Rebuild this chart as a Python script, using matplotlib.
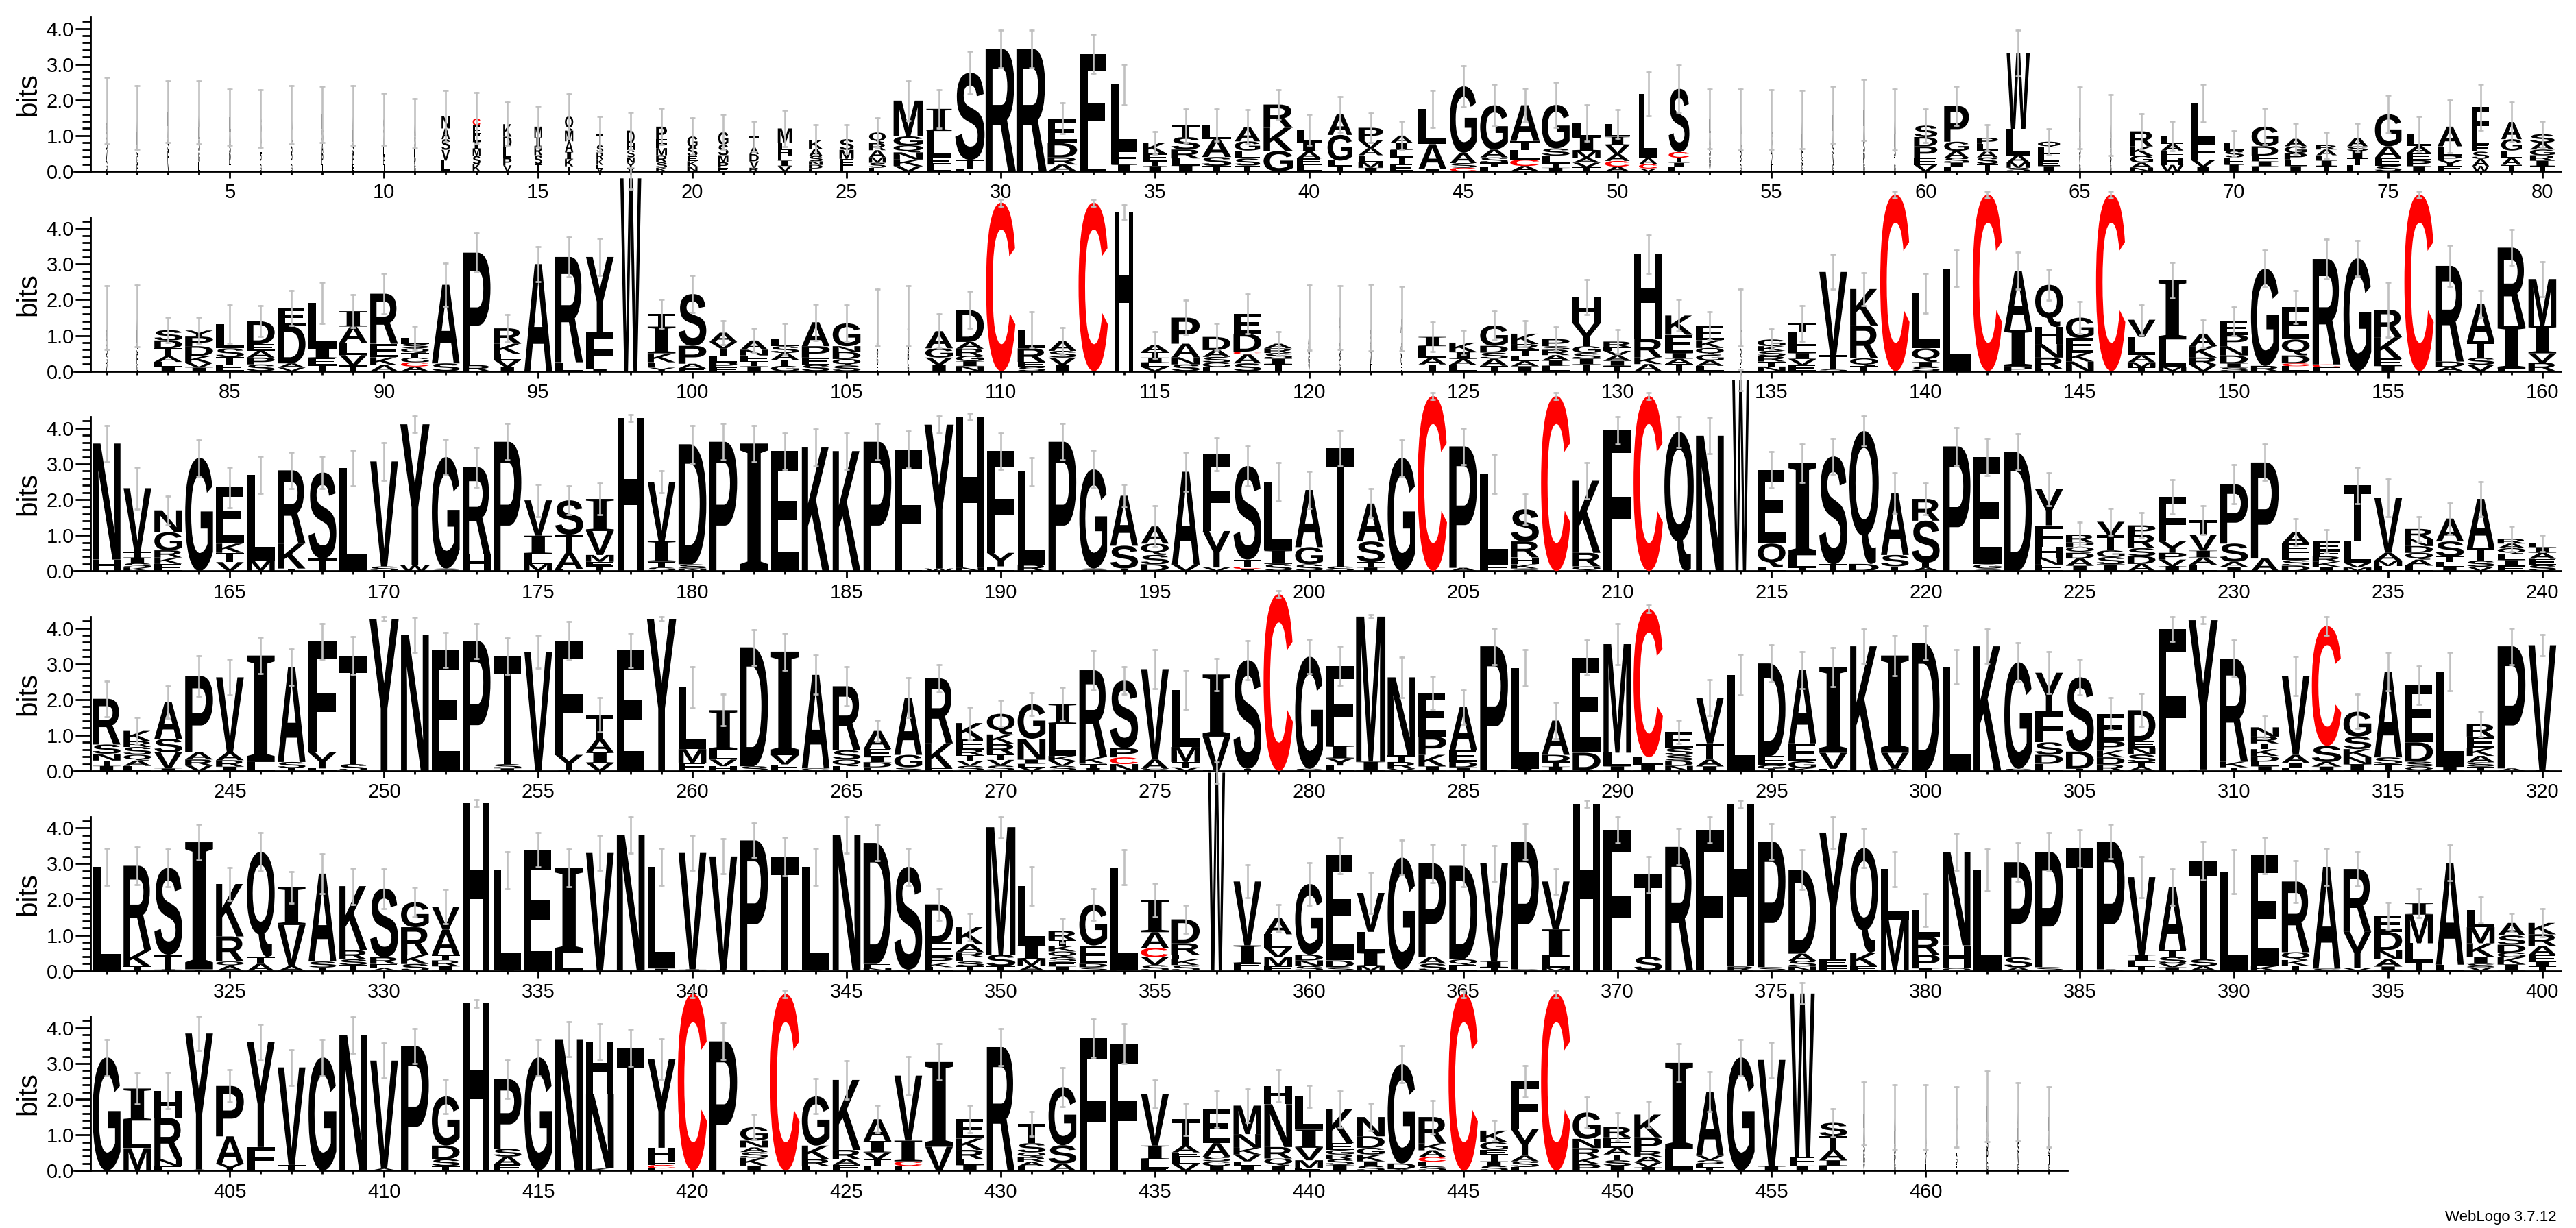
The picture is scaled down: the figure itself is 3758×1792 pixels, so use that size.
"""Sequence logo in the WebLogo style: six rows of 80 alignment positions."""
import re

import matplotlib
matplotlib.use("Agg")
import matplotlib.pyplot as plt
from matplotlib.font_manager import FontProperties
from matplotlib.patches import PathPatch
from matplotlib.path import Path
from matplotlib.textpath import TextPath
from matplotlib.ticker import FixedLocator

plt.rcParams["font.family"] = ["Liberation Sans", "DejaVu Sans"]

# Each stack lists its letters top to bottom with their height in bits.
STACKS_1 = [
    "L.4A.35S.35V.3G.3", "A.4L.35S.3G.25P.2", "L.4A.35S.35P.3V.27", "A.4L.35S.35G.3E.25",
    "L.4A.32S.3P.3T.2", "S.4A.3L.3P.28G.2", "A.4L.35S.33P.3G.2", "L.4S.35A.34P.3T.2",
    "A.4L.34S.32P.3E.2", "S.4A.32L.3P.24T.2", "A.36S.3L.28P.22G.18", "N.35A.3S.3V.3L.3",
    "C.2E.25E.2I.2M.2S.23K.2", "K.35D.3L.3P.2V.17", "M.3I.25R.25S.25T.2", "Q.4M.3A.3I.2K.2T.14",
    "T.3S.2R.2K.15L.1V.08", "D.35H.2S.2N.15Y.14V.1", "P.35F.25M.2R.2S.15K.1", "G.3S.25E.15K.14N.14",
    "G.35S.3M.2P.15E.1", "T.3A.2D.2V.18R.1", "M.4L.2H.15E.15I.15V.15", "K.25A.2S.15N.1D.1E.08",
    "S.3M.25E.2L.15", "Q.3R.2A.2M.15S.14L.1", "M1.0G.25Q.2N.2K.18V.15", "I.62L.74E.2L.19",
    "S2.44T.25L.07", "R3.43", "R3.43", "E.69D.4R.2A.19",
    "F2.94L.35", "L1.82F.42I.19", "K.3F.2T.15I.15", "T.32S.35R.25L.2I.16",
    "L.4A.5S.25T.15", "A.4G.26L.22S.2T.16", "R.65K.65G.57", "L.35I.25A.2E.18L.18",
    "A.58G.72L.15T.15", "P.35V.22A.2L.2M.15I.1", "A.2I.2L.2T.2E.2", "L.99A.69I.07",
    "G1.86A.29S.13C.1", "G1.24A.22S.15T.12L.12", "A1.0T.26L.26C.18A.15", "G1.22S.2L.2T.14I.1",
    "L.39I.39M.2A.13V.12T.12", "L.35I.23V.26A.19C.16A.13", "L1.8A.17C.12V.08", "S1.77C.16T.14I.12L.12",
    "L.4A.35S.3G.22V.2", "A.4L.35S.3P.2G.2", "L.4S.35A.3V.2T.2", "A.4L.35P.3S.2G.2",
    "L.45A.35S.3V.28G.2", "L.45A.4S.35P.3G.22", "A.4L.35S.3T.2G.2", "S.32D.26P.32E.2V.18",
    "P1.0G.26A.19S.14I.12L.12", "P.17L.19A.19S.19T.2", "W2.12L.74A.2M.15S.1", "Q.16L.19L.18E.15I.15",
    "L.4A.35S.3V.25G.2", "A.35L.3S.25P.2G.2", "R.42K.26G.2A.14N.1", "L.22A.19F.2H.2W.18",
    "L1.11F.48V.19I.13", "L.2S.19F.2I.19", "G.55D.26F.16I.14L.14", "A.21G.19P.18L.18I.15",
    "R.12A.16L.15I.15T.15", "A.24S.13I.2T.2L.17", "G.9A.32E.22S.16", "L.32A.2E.2P.16I.15",
    "A.55L.26P.13Y.16E.15", "F.83L.22E.2S.2A.2W.15", "A.48G.32L.2A.2T.18", "S.24A.19G.16R.15I.15T.15",
]
WIDTH_1 = ([.05] * 11
           + [.27, .25, .27, .25, .27, .22, .25, .35, .33, .33, .3, .46, .44, .46, .54]
           + [.95, .82, .95, .98, .98, .95, .82, .82, .76, .9, .95, .82, .95, .8, .8, .8,
              .72, .9, .86, .9, .95, .9, .9, .8, .6, .67]
           + [.05] * 7
           + [.75, .8, .68, .75, .72, .05, .05, .75, .72, .8, .62, .86, .72, .67, .67, .86,
              .8, .8, .54, .67, .8])
ERR_1 = [
    .93, .89, .86, .88, .79, .81, .81, .79, .83, .73, .69,
    .72, .72, .61, .57, .62, .5, .52, .51, .51, .5, .43, .5, .42, .41, .41,
    .56, .54, .59, .53, .53, .43, .55, .57, .32, .47, .45, .48, .41, .43, .5, .42, .4,
    .52, .57, .59, .47, .64, .51, .4, .62, .66,
    .83, .85, .83, .82, .8, .85, .85,
    .47, .55, .36, .64, .36, .86, .85, .5, .42, .53, .36, .51, .43, .37, .41, .53, .5,
    .74, .64, .55, .37,
]

STACKS_2 = [
    "L.4A.35S.3G.25V.2", "A.4L.35S.3P.3G.2", "S.29D.22T.22A.16L.14I.12", "Y.17P.27D.27K.2V.13I.1",
    "L.68S.25T.2E.19", "D.64E.19A.19P.19S.19", "E.5D1.05A.12V.1", "L1.28I.26E.2T.17",
    "I.43A.45L.35V.29T.16", "R1.4E.38K.22A.17", "L.16S.13Q.13T.13G.13C.12A.13", "A2.2S.22",
    "P3.15R.17", "R.43K.29L.16V.2I.12", "A3.0", "R2.95L.25",
    "Y2.12F1.02I.06", "W5.4", "T.35I.75K.25L.15Y.1", "S1.45P.5A.13E.08",
    "A.26V.19T.19L.19P.15F.1", "A.26N.16F.16T.14I.14", "L.2S.19A.19T.17G.15", "A.67P.32E.2S.18",
    "G.64N.16D.2Q.18S.16", "L.4A.35S.3G.25E.2", "A.4L.35S.3P.3G.2", "A.48G.26V.2I.18",
    "D.9A.19R.2G.15I.14N.14", "C4.72", "L.51R.38E.14S.12", "A.27S.19V.2I.18",
    "C4.72", "H4.45", "A.19T.16I.14L.12V.12", "P.73A.38N.2S.19",
    "D.37A.19S.16G.12E.12", "E.55D.5C.08A.25S.22", "A.13R.13S.16I.15T.2", "L.4A.35S.3G.25V.2",
    "A.4L.35S.3P.25G.2", "L.4S.35A.3V.25T.2", "A.4L.35S.3G.22E.2", "I.26L.32A.19T.19",
    "K.26I.2A.17L.17", "G.57D.19S.17A.2T.15", "K.29R.16T.16L.16A.14I.14", "P.2S.1R.15A.15I.15L.15",
    "H.73Y.64G.19S.16I.16T.19", "R.16F.1V.13A.15I.14T.15", "H2.37R.51K.19A.2", "K.54E.51I.16A.15T.2",
    "E.41K.22Q.19G.16A.15L.15", "L.4A.35S.3G.25E.2", "G.19K.13S.15R.15T.14N.13", "T.26L.38L.19I.17V.17E.17",
    "V2.33T.38S.07", "K1.02R.92Q.22T.14", "C4.95", "L1.54Q.38I.14S.12",
    "L2.88", "C4.95", "A1.66I1.02P.13", "Q1.18H.48N.38R.32L.06",
    "G.57E.41K.25N.27", "C4.95", "V.48L.51A.2M.15T.1", "I1.66L.77M.12",
    "A.35K.32R.2V.18", "E.38P.32N.26D.22I.12S.1", "G2.72R.15", "E.9Q.45D.22C.08L.14",
    "R2.95C.08E.11", "G3.16", "R.77K.6E.2I.15", "C4.95",
    "R2.68D.15A.12", "A1.05T.45S.2V.18", "R2.2I1.2E.06", "M1.31I.77V.26R.24",
]
WIDTH_2 = ([.05, .05] + [.9] * 15 + [.68] + [.9] * 7 + [.05, .05, .9, .9, .95, .9, .9, .95, .6]
           + [.9] * 5 + [.05] * 4 + [.9] * 10 + [.05] + [.9] * 4 + [.95, .9, .9, .95]
           + [.9] * 3 + [.95] + [.9] * 9 + [.95] + [.9] * 4)
ERR_2 = [
    .89, .86, .35, .36, .54, .43, .49, .58, .46, .57, .33, .61, .55, .38, .49, .56, .51, .3, .4, .52,
    .34, .34, .44, .51, .51, .8, .85, .48, .52, .1, .51, .38, .1, .2, .37, .49, .37, .56, .33, .92,
    .9, .93, .9, .41, .35, .41, .37, .34, .49, .33, .54, .44, .38, .8, .29, .5, .49, .46, .1, .56,
    .51, .1, .52, .44, .46, .1, .42, .5, .39, .4, .52, .46, .55, .49, .77, .1, .57, .37, .5, .49,
]

STACKS_3 = [
    "N3.25H.32", "V1.78T.16I.16S.12K.1", "N.61G.51R.2K.18E.2", "G3.17",
    "E1.57K.26T.26V.25", "L2.4M.29", "R2.05K.7T.07", "S2.41T.35",
    "L2.89", "V2.94S.13", "Y3.95W.16", "G3.12S.07",
    "R2.43H.48", "P3.62", "V.99I.51L.28M.2", "S.96T.51A.45F.06",
    "I.9V.67M.19E.13T.13", "H4.29", "V1.66I.58T.16S.1", "D3.36S.12N.07",
    "P3.62", "I3.57", "E3.36", "K3.46",
    "K3.36", "P3.62", "F3.3L.1", "Y4.03W.07",
    "H4.22N.1", "F2.85Y.38L.13", "L2.6R.18", "P3.62",
    "G2.78S.07", "A1.4S.64T.07", "A.48Q.32S.26D.19", "A2.6V.18",
    "F2.14Y1.02V.1", "S2.62T.2C.06I.06", "L1.92I.38S.2", "A1.6G.48S.19",
    "T3.31S.13", "A1.06S.58T.15I.1", "G3.17", "C4.9",
    "P3.4A.09", "L2.5F.22", "S.9R.45H.19K.12S.07", "C4.9",
    "K2.02R.38Q.13", "F3.94", "C4.9", "Q3.9",
    "N3.79", "W5.35", "E2.06Q.67L.1", "I2.58L.35T.09",
    "S3.02T.19", "Q3.72D.2", "A1.73S.32T.13", "R.61S1.18T.13A.1",
    "P3.49", "E3.0G.12S.07", "D3.33", "Y1.01F.61H.29N.2E.18",
    "R.22P.13Q.16D.16A.2I.15", "V.38T.42G.19S.2I.19", "P.26R.38S.22D.22A.2", "F1.25Y.32P.19V.18I.14",
    "T.4V.45I.19A.2L.18", "P1.66S.51A.14I.12", "P2.69A.35", "A.32E.26L.2S.16D.15",
    "E.26E.16R.15K.14I.12", "T1.57L.6V.13M.1", "V1.54A.22M.15L.14", "R.29N.19D.19Q.19A.17L.15",
    "A.64S.42T.15L.14I.12", "A1.38T.35S.17V.12", "R.13A.13Q.16L.17I.16E.15", "L.1I.16A.17E.17S.17",
]
WIDTH_3 = ([.9] * 10 + [.95] + [.9] * 6 + [.82] + [.9] * 9 + [.95] + [.9] * 15 + [.95]
           + [.9] * 3 + [.95] + [.9] * 2 + [.95, .95, .9, .55] + [.9] * 3 + [.95] + [.9] * 22)
ERR_3 = [
    .51, .59, .4, .51, .57, .52, .51, .45, .5, .53, .23, .5, .56, .51, .45, .4, .44, .1, .3, .53,
    .51, .51, .51, .52, .51, .51, .52, .24, .1, .51, .39, .51, .53, .32, .57, .55, .46, .56, .54, .51,
    .5, .41, .51, .1, .51, .54, .43, .1, .51, .39, .1, .43, .51, .3, .51, .54, .5, .42, .57, .44,
    .52, .52, .51, .47, .34, .38, .35, .48, .4, .55, .51, .38, .32, .51, .52, .34, .44, .49, .35, .23,
]

STACKS_4 = [
    "R1.28S.26N.19T.15I.14", "K.29R.16S.22Q.16A.15L.14", "A1.02S.38V.45I.07", "P2.14A.2R.17V.15",
    "V2.1A.22R.18I.12", "I2.98L.25", "A2.66S.17T.08", "F3.1Y.45L.07",
    "T3.04S.19", "Y4.26", "N3.81", "E3.38",
    "P3.64", "T3.02S.12I.07", "V3.33", "F3.2Y.42W.03",
    "T.67A.38I.3V.22", "E3.38", "Y4.26", "L1.73M.38E.23",
    "I1.12L.26V.19H.13", "D3.33S.13", "I2.9V.26E.18", "A2.62G.07",
    "R1.79S.26Q.19L.13", "A.51E.22I.15D.14L.1", "A1.6G.35S.1", "R1.82K.7E.07",
    "K.45E.29R.16T.16V.14S.14", "Q.58K.26R.29T.16V.16S.15", "G.97N.58I.12L.1V.1", "I.55L.9K.14V.14S.14",
    "R2.43K.19T.12I.08", "S1.89P.26C.19N.19", "V2.53A.26S.06", "L1.6M.42T.15V.1",
    "I1.74V.93L.03", "S3.04T.06", "C4.95", "G3.14S.06",
    "F2.24I.35Y.2L.15", "M4.06I.26", "N2.18T.19R.19V.06", "E1.22P.51K.32I.13",
    "A1.22E.32D.15I.1", "P3.46S.03", "L2.82I.06", "A.96D.19T.14I.12",
    "E2.66D.48I.03", "M3.04L.38I.13", "C4.16L.2I.18", "E.45S.2S.15D.15N.14",
    "V1.28T.45A.19I.13", "L2.69", "D2.59E.26G.1T.06", "A2.05E.5G.19K.08",
    "I2.4V.45L.06", "K3.49", "I2.72V.45A.06", "D3.58",
    "L2.91", "K3.49", "G2.98S.06", "Y1.09F.86S.35D.25L.2",
    "S2.08D.48T.06", "E.77P.26K.19D.2R.18", "D.86E.19N.19S.22T.12A.12", "F3.94L.03",
    "Y4.18F.04", "R2.88K.16T.1", "N.26R.19T.16K.19D.16L.13I.13", "V2.21A.22I.15L.08",
    "C3.36S.45A.13I.12", "G.7S.35K.22N.2I.19", "A2.4S.19T.19", "E1.6D.54S.14Q.12",
    "L2.66I.12", "R.35E.32K.22A.18S.12T.12", "P3.42A.07", "V3.49I.03",
]
WIDTH_4 = ([.9] * 9 + [.95] + [.9] * 8 + [.95] + [.9] * 19 + [.95] + [.9] * 2 + [.95]
           + [.9] * 8 + [.95] + [.9] * 17 + [.95] + [.9] * 3 + [.95] + [.9] * 7)
ERR_4 = [
    .5, .38, .45, .57, .5, .51, .51, .5, .53, .06, .49, .49, .49, .51, .46, .54, .48, .48, .06, .57,
    .44, .5, .52, .55, .54, .29, .56, .39, .45, .38, .31, .47, .56, .38, .54, .55, .45, .55, .1, .48,
    .55, .05, .56, .46, .48, .51, .51, .51, .49, .58, .1, .33, .51, .57, .52, .51, .55, .48, .56, .48,
    .48, .48, .54, .58, .5, .45, .46, .35, .1, .52, .32, .55, .26, .48, .53, .54, .53, .35, .51, .3,
]

STACKS_5 = [
    "L2.91", "R2.37K.45T.12", "S2.43T.41I.04", "I3.56T.04",
    "K1.47R.7Q.13A.13", "Q2.94T.19A.2", "I1.06V1.15A.13", "A2.46S.17T.09",
    "K1.79R.26S.16T.16", "S1.92R.19E.12A.07", "G.7R.77K.26S.19", "V.64A.7T.16R.16I.13",
    "H4.7", "L2.78I.04", "E3.39", "I2.37L.51",
    "V3.3", "N3.78A.03", "L2.85I.06", "V3.26I.04",
    "V3.17I.03", "P3.62A.03", "T3.17S.03", "L2.88V.03",
    "N3.78S.03", "D3.39E.12N.07", "S2.88A.03", "D1.06E.42P.16K.12L.1",
    "K.48A.22R.13E.13S.13T.13", "M3.57S.32T.13", "L1.66I.38M.19A.14", "R.26T.16K.16Q.16S.13E.13I.12",
    "G1.15E.51D.1S.1", "L2.88K.02", "I.9A.44C.26V.22S.16", "D.67R.32E.13K.16S.16",
    "W5.55", "V1.79I.51E.1L.1", "A.45L.38V.26M.26F.12", "G1.98D.16N.16S.13",
    "E2.94D.19S.1", "V1.09L.58I.38M.13", "G3.14S.03", "P2.62A.19S.2",
    "D2.62Q.16E.16", "V2.75I.16T.1", "P3.58S.04", "V1.34I.77L.32M.07",
    "H4.68", "F3.92Y.03", "T2.3S.39", "R3.44K.03",
    "F3.92Y.03", "H4.55R.12", "P3.52S.1", "D2.35A.2S.16N.12",
    "Y3.55E.19F.13", "Q2.93K.38E.13", "L1.41M1.41I.03", "L.74R.51P.38I.07",
    "N2.62H.64Q.07", "L2.82", "P2.66S.29A.09", "P3.23S.1",
    "T3.39S.03", "P3.58A.04", "V2.18I.16L.16T.12", "A1.76T.19S.19V.1I.1",
    "T2.76S.19A.13", "L2.78", "E3.1K.13", "R1.98Q.22K.16T.14",
    "A2.85S.06", "R1.76Y1.02V.07", "E.45D.51N.26A.2I.12", "I.32M.8L.51T.26",
    "A2.85L.17", "L.48M.45K.38I.19S.1V.1", "A.35S.26D.22G.13K.2I.18", "K.32R.32A.26E.19I.13T.12",
]
WIDTH_5 = ([.9] * 12 + [.85] + [.9] * 16 + [.95] + [.9] * 6 + [.55] + [.9] * 11 + [.85]
           + [.9] * 4 + [.85] + [.9] * 26)
ERR_5 = [
    .51, .53, .52, .5, .46, .54, .44, .56, .51, .56, .42, .48, .1, .52, .48, .52, .49, .51, .51, .49,
    .49, .48, .54, .51, .51, .5, .51, .44, .38, .3, .54, .35, .44, .49, .47, .4, .3, .46, .39, .59,
    .51, .57, .49, .54, .59, .5, .49, .35, .1, .37, .51, .51, .37, .1, .49, .56, .45, .54, .49, .46,
    .52, .58, .54, .54, .52, .48, .57, .51, .54, .61, .51, .58, .51, .48, .38, .4, .5, .36, .26, .39,
]

STACKS_6 = [
    "G3.17", "I.9L.77M.63", "H.77R1.15N.19E.13", "Y3.81A.03",
    "P1.41A.77Y.19", "Y2.94F.61L.05", "V2.73T.16", "G3.17",
    "N3.79", "V3.02A.06", "P3.49", "G1.38D.38S.19T.13",
    "H4.68", "P1.95S.22A.22E.17", "G3.17", "N3.68",
    "H1.45N2.08K.07", "T3.44", "Y2.48H.38F.1C.1L.06", "C4.95",
    "P3.62", "G.38N.19A.13S.16K.22I.14", "C4.95", "G1.38K.38R.19L.13",
    "K1.96R.26A.16E.16", "A.61I.32V.19T.19L.13", "V1.82I.58C.13L.13", "I2.37V.67",
    "E.54K.32R.26L.16I.16", "R3.46", "T.54S.26Q.13R.13A.13L.12", "G1.63S.51A.2",
    "F3.71", "F3.42L.13", "V1.44I.38L.26E.06", "T.74A.19E.13L.19V.19",
    "E.96A.38S.13G.13I.13", "M.8N.38K.19V.19L.13I.13", "H.51N1.2R.32Q.2I.14", "L.93I.51V.35M.22E.07",
    "K.96E.19G.13R.13S.16I.16", "N.54D.32G.19K.19I.13S.13", "G2.78D.16A.04", "R.74K.19A.19C.13L.13S.12",
    "C4.95", "K.32G.22E.13T.19I.13S.13", "F1.34Y.74A.16S.16L.1", "C4.95",
    "G.74N.26R.26K.19P.18", "R.29E.29A.19T.16S.16I.13", "K.64P.38R.16A.16V.13I.1", "I2.41L.58V.03",
    "A1.79V.13S.1E.1T.09", "G3.17", "V2.98I.12", "W4.58F.24I.14",
    "S.38T.38A.29I.15L.14", "L.4A.4S.3G.3V.2", "A.4L.35S.3P.25G.2", "L.4A.35S.3V.25T.2",
    "S.4A.35L.3G.25E.2", "L.45A.4S.35P.35G.25", "A.45L.4S.3V.3G.2", "L.4A.35S.3T.25G.2",
]
WIDTH_6 = ([.9] * 12 + [.85] + [.9] * 6 + [.95] + [.9] * 2 + [.95] + [.9] * 21 + [.95]
           + [.9] * 2 + [.95] + [.9] * 7 + [.8, .9] + [.05] * 7)
ERR_6 = [
    .51, .43, .5, .48, .45, .5, .5, .51, .51, .49, .49, .48, .1, .54, .51, .49, .51, .52, .57, .1,
    .51, .35, .1, .49, .54, .38, .54, .51, .38, .51, .35, .55, .53, .56, .39, .45, .51, .47, .45, .3,
    .51, .39, .51, .47, .1, .29, .44, .1, .42, .39, .38, .53, .55, .51, .5, .3, .4, .88, .9, .9,
    .85, .98, .82, .85,
]

ROW_STARTS = [1, 81, 161, 241, 321, 401]

# Layout in output pixels (figure is 3758 x 1792 at dpi 100).
FIG_W, FIG_H = 3758, 1792
STEP_PX = 44.98        # one alignment position
BIT_PX = 52.1          # one bit
Y_MAX = 4.32
ROW_PITCH_PX = 291.65
FIRST_BASE_PX = 250.0  # baseline of the first row, from the top
FIRST_POS_PX = 155.5   # centre of the first column
AXIS_LEFT = 1.06       # x axis starts this many columns before the first one
YAXIS_AT = 0.53        # y axis sits this many columns before the first one

LETTER_FONT = FontProperties(family=["Liberation Sans", "DejaVu Sans"], weight="bold")
SERIF_FONT = FontProperties(family=["Liberation Serif", "DejaVu Serif"], weight="bold")
RED = "#ff0000"
GREY = "#c0c0c0"
TOKEN = re.compile(r"([A-Z])(\d*\.?\d+)")

_glyphs = {}


def _glyph(ch):
    if ch not in _glyphs:
        prop = SERIF_FONT if ch == "I" else LETTER_FONT
        path = TextPath((0, 0), ch, size=1, prop=prop)
        _glyphs[ch] = (path.vertices.copy(), path.codes, path.get_extents())
    return _glyphs[ch]


def _draw_letter(ax, ch, xc, y0, w, h):
    verts0, codes, ext = _glyph(ch)
    verts = verts0.copy()
    verts[:, 0] = (verts[:, 0] - ext.x0) / ext.width * w + (xc - w / 2)
    verts[:, 1] = (verts[:, 1] - ext.y0) / ext.height * h + y0
    ax.add_patch(PathPatch(Path(verts, codes), facecolor=RED if ch == "C" else "black",
                           edgecolor="none", lw=0, clip_on=False, zorder=3))


def _draw_row(fig, r, start, stacks, widths, errs):
    n = len(stacks)
    x_lo, x_hi = start - AXIS_LEFT, start + n - 1 + 0.6
    left_px = FIRST_POS_PX - AXIS_LEFT * STEP_PX
    width_px = (x_hi - x_lo) * STEP_PX
    base_px = FIRST_BASE_PX + r * ROW_PITCH_PX
    ax = fig.add_axes([left_px / FIG_W, 1 - base_px / FIG_H,
                       width_px / FIG_W, Y_MAX * BIT_PX / FIG_H])
    ax.patch.set_visible(False)
    ax.set_xlim(x_lo, x_hi)
    ax.set_ylim(0, Y_MAX)

    for i, (stack, w, e) in enumerate(zip(stacks, widths, errs)):
        x = start + i
        y = 0.0
        for ch, h in reversed([(m.group(1), float(m.group(2)))
                               for m in TOKEN.finditer(stack)]):
            if h >= 0.02:
                _draw_letter(ax, ch, x, y, w, h)
            y += h
        ax.plot([x, x], [y - e, y + e], color=GREY, lw=1.9, marker="_", ms=5.5,
                mew=1.9, clip_on=False, zorder=5)

    for side in ("top", "right"):
        ax.spines[side].set_visible(False)
    ax.spines["left"].set_position(("data", start - YAXIS_AT))
    ax.spines["left"].set_bounds(0, Y_MAX)
    ax.spines["left"].set_linewidth(2.0)
    ax.spines["bottom"].set_linewidth(2.0)

    ax.set_yticks([0, 1, 2, 3, 4])
    ax.set_yticklabels(["0.0", "1.0", "2.0", "3.0", "4.0"])
    ax.yaxis.set_minor_locator(FixedLocator([k * 0.2 for k in range(22) if k % 5]))
    first = ((start + 4) // 5) * 5
    ax.set_xticks(list(range(first, start + n, 5)))
    ax.xaxis.set_minor_locator(FixedLocator(list(range(start, start + n))))
    ax.tick_params(axis="y", which="major", length=16, width=2.0, labelsize=21, pad=1)
    ax.tick_params(axis="y", which="minor", length=8.5, width=2.0)
    ax.tick_params(axis="x", which="major", length=7.5, width=2.0, labelsize=21, pad=5)
    ax.tick_params(axis="x", which="minor", length=3.8, width=2.0)

    ax.set_ylabel("bits", fontsize=29)
    ax.yaxis.set_label_coords((60 - left_px) / width_px, 0.5)


def main():
    fig = plt.figure(figsize=(FIG_W / 100, FIG_H / 100), dpi=100)
    rows = [
        (STACKS_1, WIDTH_1, ERR_1), (STACKS_2, WIDTH_2, ERR_2), (STACKS_3, WIDTH_3, ERR_3),
        (STACKS_4, WIDTH_4, ERR_4), (STACKS_5, WIDTH_5, ERR_5), (STACKS_6, WIDTH_6, ERR_6),
    ]
    for r, (start, (stacks, widths, errs)) in enumerate(zip(ROW_STARTS, rows)):
        _draw_row(fig, r, start, stacks, widths, errs)
    fig.text(3730 / FIG_W, 1 - 1776 / FIG_H, "WebLogo 3.7.12", ha="right", va="center",
             fontsize=16)
    fig.savefig("out.png", dpi=100)


if __name__ == "__main__":
    main()
